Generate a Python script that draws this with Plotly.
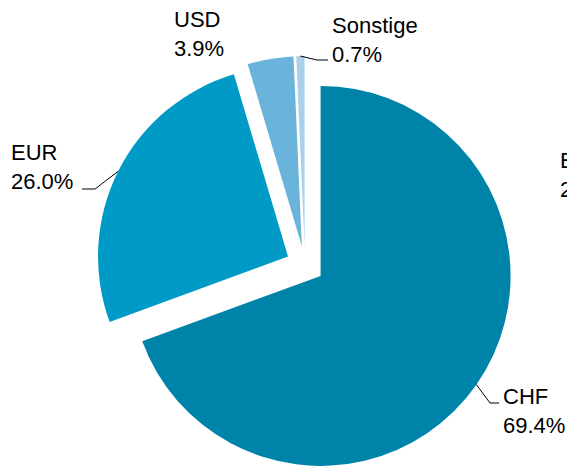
import numpy as np
import plotly.graph_objects as go

# the page puts the figure 8px in from the window's top-left corner
PAGE_W, PAGE_H, BODY = 575, 474, 8
W, H = PAGE_W - BODY, PAGE_H - BODY

currencies = ["CHF", "EUR", "USD", "Sonstige"]
shares = [69.4, 26.0, 3.9, 0.7]
share_labels = ["69.4%", "26.0%", "3.9%", "0.7%"]
colors = ["#0083a9", "#009ac6", "#6ab4dc", "#abd1ea"]

# pie placement in window pixels
cx, cy, box = 305, 265, 418
pull = 0.1
radius = box / (2 + 2 * pull)

# label placement: left edge of text, baseline of first line (window pixels)
label_pos = {
    "CHF": (503, 404),
    "EUR": (11, 160),
    "USD": (174, 27),
    "Sonstige": (332, 33),
}
# end of leader line next to the text, and length of its flat part; USD has none
leader_end = {
    "CHF": (499, 403, -9),
    "EUR": (82, 189, 13),
    "Sonstige": (328, 60, -11),
}


def px(x):
    return (x - BODY) / W


def py(y):
    return 1 - (y - BODY) / H


fig = go.Figure()
fig.add_trace(
    go.Pie(
        labels=currencies,
        values=shares,
        sort=False,
        direction="clockwise",
        rotation=0,
        pull=[pull] * len(shares),
        marker={"colors": colors, "line": {"width": 0}},
        textinfo="none",
        hoverinfo="label+percent",
        domain={"x": [px(cx - box / 2), px(cx + box / 2)], "y": [0, box / H]},
        showlegend=False,
    )
)

# leader lines start at the outer edge of each pulled slice, at its mid angle
total = sum(shares)
cum = np.cumsum([0] + shares)
shapes = []
for i, name in enumerate(currencies):
    if name not in leader_end:
        continue
    mid = np.deg2rad((cum[i] + shares[i] / 2) / total * 360)
    r = radius * (1 + pull)
    sx, sy = cx + r * np.sin(mid), cy - r * np.cos(mid)
    ex, ey, dx = leader_end[name]
    path = f"M {px(sx)},{py(sy)} L {px(ex + dx)},{py(ey)} L {px(ex)},{py(ey)}"
    shapes.append(
        dict(type="path", xref="paper", yref="paper", path=path,
             line={"color": "black", "width": 1})
    )

annotations = []
for name, share_txt in zip(currencies, share_labels):
    x, base = label_pos[name]
    annotations.append(
        dict(x=px(x - 1), y=py(base - 21), xref="paper", yref="paper",
             xanchor="left", yanchor="top", align="left", showarrow=False,
             borderpad=0, text=f"{name}<br>{share_txt}")
    )
# label of a neighbouring chart, cut at the right edge
annotations.append(
    dict(x=px(566), y=py(168 - 21), xref="paper", yref="paper",
         xanchor="right", xshift=10, yanchor="top", align="left", showarrow=False,
         borderpad=0, text="E<br>2")
)

fig.update_layout(
    width=W,
    height=H,
    margin={"l": 0, "r": 0, "t": 0, "b": 0},
    paper_bgcolor="white",
    plot_bgcolor="white",
    font={"family": "Liberation Sans, Arial, sans-serif", "size": 22, "color": "black"},
    shapes=shapes,
    annotations=annotations,
)

fig.write_html("out.html")
